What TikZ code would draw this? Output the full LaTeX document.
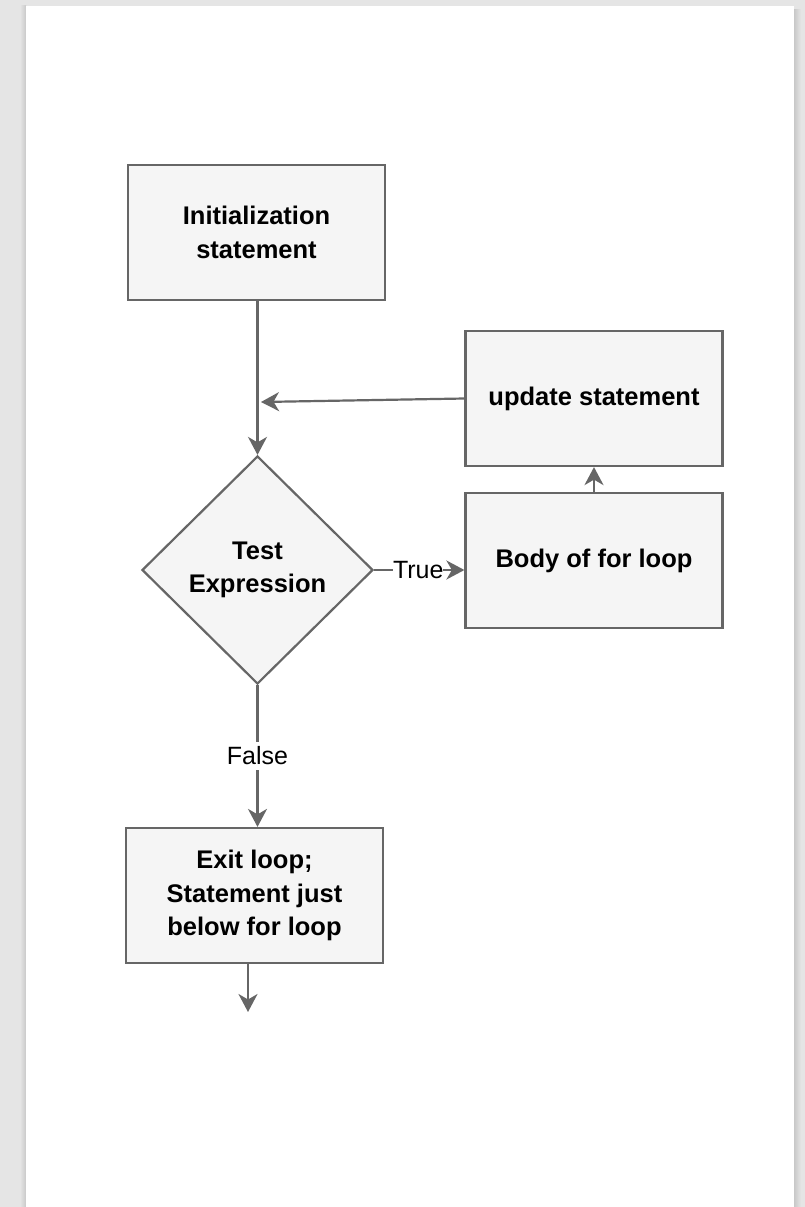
\documentclass[tikz,border=0pt]{standalone}
\usepackage{fontspec}
\setmainfont{Liberation Sans}
\usetikzlibrary{shapes.geometric,arrows.meta}
\definecolor{bgcol}{HTML}{E5E5E5}
\definecolor{shcol}{HTML}{C8C8C8}
\definecolor{boxfill}{HTML}{F5F5F5}
\definecolor{linecol}{HTML}{666666}
\tikzset{
  box/.style={draw=linecol, line width=2.2pt, fill=boxfill, inner sep=0pt,
    align=center, font=\fontsize{25.5}{33.5}\selectfont\bfseries},
  rbox/.style={box, rectangle, minimum width=257pt, minimum height=135pt},
  dbox/.style={box, diamond, minimum width=231pt, minimum height=228pt},
  arr/.style={draw=linecol, line width=2.2pt,
    -{Stealth[length=18pt,width=19pt,inset=5.5pt,fill=linecol]}},
  lbl/.style={fill=white, inner xsep=0pt, inner ysep=5pt, text=black, font=\fontsize{25}{30}\selectfont}
}
\begin{document}
\begin{tikzpicture}[x=1pt,y=-1pt]
\fill[bgcol] (0,0) rectangle (805,1207);
\useasboundingbox (0,0) rectangle (805,1207);
\shade[left color=bgcol, right color=shcol] (20,6) rectangle (26,1207);
\shade[left color=shcol, right color=bgcol] (794,10) rectangle (801,1207);
\fill[white] (26,6) rectangle (794,1207);

\node[rbox] (init) at (256.5,232.5) {Initialization\\statement};
\node[rbox] (upd) at (594,398.5) {update statement};
\node[rbox] (body) at (594,560.5) {Body of for loop};
\node[dbox] (test) at (257.5,570) {Test\\Expression};
\node[rbox] (exit) at (254.5,895.5) {Exit loop;\\Statement just\\below for loop};

\coordinate (j) at (261,402);
\coordinate (e) at (248,1012);

\draw[arr] (init.south -| test.north) -- (test.north);
\draw[arr] (upd.west) -- (j);
\draw[arr] (test.east) -- node[lbl, xshift=-1pt] {True} (test.east -| body.west);
\draw[arr] (body.north) -- (upd.south);
\draw[arr] (test.south) -- node[lbl] {False} (test.south |- exit.north);
\draw[arr] (exit.south -| e) -- (e);
\end{tikzpicture}
\end{document}
